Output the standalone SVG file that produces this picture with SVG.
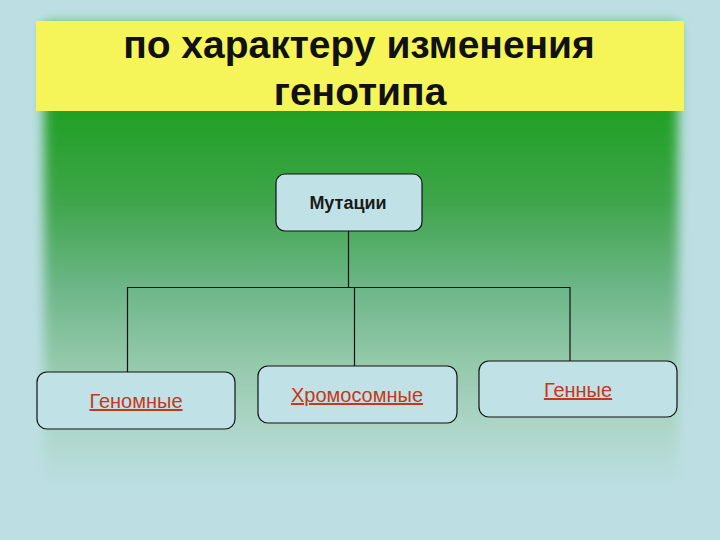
<svg xmlns="http://www.w3.org/2000/svg" width="720" height="540" viewBox="0 0 720 540">
  <defs>
    <linearGradient id="panelGrad" x1="0" y1="0" x2="0" y2="1">
      <stop offset="0" stop-color="#1f9e22"/>
      <stop offset="0.19" stop-color="#22a025"/>
      <stop offset="0.38" stop-color="#3ea54a"/>
      <stop offset="0.57" stop-color="#6db688"/>
      <stop offset="0.74" stop-color="#96caad"/>
      <stop offset="0.89" stop-color="#b0d7cc"/>
      <stop offset="1" stop-color="#bcdfe2"/>
    </linearGradient>
    <filter id="soft" x="-10%" y="-10%" width="120%" height="120%">
      <feGaussianBlur stdDeviation="6"/>
    </filter>
    <style>
      .title { font-family: "Liberation Sans", Arial, sans-serif; font-weight: bold; font-size: 39px; fill: #111111; text-anchor: middle; }
      .box { fill: #c0e2e6; stroke: #111111; stroke-width: 1.2; }
      .root { font-family: "Liberation Sans", Arial, sans-serif; font-weight: bold; font-size: 18px; fill: #1a1a1a; text-anchor: middle; }
      .leaf { font-family: "Liberation Sans", Arial, sans-serif; font-size: 20px; fill: #c8361c; text-anchor: middle; text-decoration: underline; }
      .conn { fill: none; stroke: #111111; stroke-width: 1.2; }
    </style>
  </defs>

  <rect x="0" y="0" width="720" height="540" fill="#bddfe3"/>
  <rect x="44" y="24" width="634" height="464" fill="url(#panelGrad)" filter="url(#soft)"/>

  <g id="banner">
    <rect x="36" y="21" width="648" height="90" fill="#f5f55a"/>
    <text class="title" x="359" y="58">по характеру изменения</text>
    <text class="title" x="360" y="105">генотипа</text>
  </g>

  <g id="connectors">
    <polyline class="conn" points="348.5,231 348.5,287"/>
    <polyline class="conn" points="127.5,372 127.5,287.5 570,287.5 570,361"/>
    <polyline class="conn" points="354.5,287.5 354.5,366"/>
  </g>

  <g id="node-mutations">
    <rect class="box" x="276" y="174" width="146" height="57" rx="9"/>
    <text class="root" x="348" y="209">Мутации</text>
  </g>

  <g id="node-genomic">
    <rect class="box" x="37" y="372" width="198" height="57" rx="10"/>
    <text class="leaf" x="136" y="408">Геномные</text>
  </g>

  <g id="node-chromosomal">
    <rect class="box" x="258" y="366" width="199" height="57" rx="10"/>
    <text class="leaf" x="357" y="402">Хромосомные</text>
  </g>

  <g id="node-gene">
    <rect class="box" x="479" y="361" width="198" height="56" rx="10"/>
    <text class="leaf" x="578" y="397">Генные</text>
  </g>
</svg>
